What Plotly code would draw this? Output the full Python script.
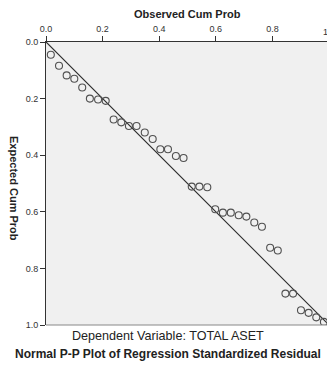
import plotly.graph_objects as go

# Observed (x) and expected (y) cumulative probabilities
observed = [0.017, 0.046, 0.073, 0.100, 0.128, 0.155, 0.184, 0.211, 0.239, 0.266,
            0.293, 0.320, 0.349, 0.377, 0.404, 0.431, 0.459, 0.486, 0.515, 0.542,
            0.570, 0.598, 0.625, 0.653, 0.681, 0.708, 0.736, 0.763, 0.792, 0.819,
            0.846, 0.873, 0.901, 0.928, 0.955, 0.982]
expected = [0.045, 0.084, 0.118, 0.130, 0.161, 0.200, 0.203, 0.208, 0.274, 0.284,
            0.297, 0.297, 0.320, 0.343, 0.379, 0.379, 0.403, 0.410, 0.511, 0.511,
            0.513, 0.591, 0.603, 0.603, 0.612, 0.617, 0.638, 0.653, 0.727, 0.737,
            0.889, 0.889, 0.948, 0.957, 0.973, 0.989]
ref_line = [0.0, 1.0]
tick_vals = [0.0, 0.2, 0.4, 0.6, 0.8, 1.0]
tick_text = ["0.0", "0.2", "0.4", "0.6", "0.8", "1.0"]

title_text = "Normal P-P Plot of Regression Standardized Residual"
subtitle_text = "Dependent Variable: TOTAL ASET"
x_title = "Observed Cum Prob"
y_title = "Expected Cum Prob"

FONT = "Arial, Liberation Sans, sans-serif"
W, H = 327, 365
L, T, B = 46, 42, 40
PW = W - L
PH = H - T - B

fig = go.Figure()
fig.add_trace(go.Scatter(x=ref_line, y=ref_line, mode="lines",
                         line=dict(color="#2a2a2a", width=1.2), hoverinfo="skip"))
fig.add_trace(go.Scatter(x=observed, y=expected, mode="markers",
                         marker=dict(symbol="circle-open", size=7,
                                     color="#505050", line=dict(width=1.1))))

def py(p):
    return (H - B - p) / PH

def px(p):
    return (p - L) / PW

fig.update_layout(
    width=W, height=H,
    margin=dict(l=L, r=0, t=T, b=B),
    paper_bgcolor="white", plot_bgcolor="#f0f0f0",
    showlegend=False,
    font=dict(family=FONT, color="#222222"),
    xaxis=dict(range=[0, PW / PH], side="top", showgrid=False, zeroline=False,
               showline=True, linecolor="#333333", linewidth=1,
               ticks="outside", ticklen=5, tickcolor="#333333",
               tickvals=tick_vals, ticktext=tick_text,
               tickfont=dict(size=9, color="#333333")),
    yaxis=dict(range=[1, 0], showgrid=False, zeroline=False,
               showline=True, linecolor="#333333", linewidth=1,
               ticks="outside", ticklen=5, tickcolor="#333333",
               tickvals=tick_vals, ticktext=tick_text,
               tickfont=dict(size=9, color="#333333")),
    shapes=[dict(type="line", xref="paper", yref="paper", x0=0, x1=1, y0=0, y1=0,
                 line=dict(color="#888888", width=1))],
    annotations=[
        dict(text="<b>" + x_title + "</b>", xref="x", yref="paper", x=0.5, y=py(14),
             showarrow=False, font=dict(size=11, color="#222222"),
             xanchor="center", yanchor="middle"),
        dict(text="<b>" + y_title + "</b>", xref="paper", yref="paper", x=px(14), y=py(188),
             showarrow=False, textangle=90, font=dict(size=11, color="#222222"),
             xanchor="center", yanchor="middle"),
        dict(text="1.0", xref="paper", yref="paper", x=px(329.7), y=py(32),
             showarrow=False, font=dict(size=9, color="#333333"),
             xanchor="center", yanchor="middle"),
        dict(text=subtitle_text, xref="paper", yref="paper",
             x=px(168), y=py(336), showarrow=False,
             font=dict(size=12.6, color="#222222"), xanchor="center", yanchor="middle"),
        dict(text="<b>" + title_text + "</b>", xref="paper", yref="paper",
             x=px(168), y=py(354), showarrow=False,
             font=dict(size=12, color="#222222"), xanchor="center", yanchor="middle"),
    ],
)

fig.write_html("out.html")
